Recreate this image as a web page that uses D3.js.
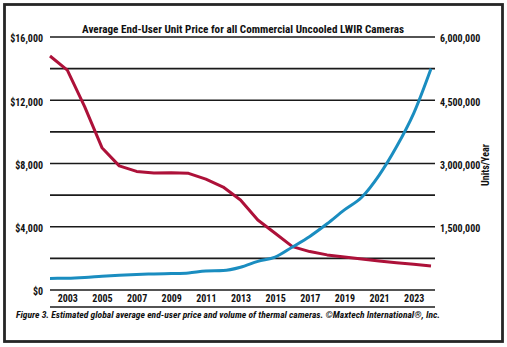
<!DOCTYPE html>
<html>
<head>
<meta charset="utf-8">
<script src="https://cdn.jsdelivr.net/npm/d3@7"></script>
<style>
  html, body { margin: 0; padding: 0; background: #fff; }
  svg text { font-family: "Liberation Sans Narrow", "Roboto Condensed", "DejaVu Sans Condensed", "Liberation Sans", sans-serif; fill: #111; }
</style>
</head>
<body>
<div id="chart"></div>
<script>
const years = d3.range(2002, 2025)
// average end-user unit price, US$
const price = [14800, 13900, 11600, 9000, 7850, 7500, 7400, 7420, 7380, 7010, 6510,
  5690, 4430, 3590, 2740, 2430, 2220, 2090, 1960, 1840, 1730, 1630, 1520]
// units shipped per year
const units = [275000, 278000, 295000, 325000, 350000, 368000, 380000, 390000, 405000,
  450000, 460000, 540000, 680000, 780000, 1020000, 1270000, 1570000, 1900000, 2200000,
  2720000, 3390000, 4190000, 5250000]
const xTicks = [2003, 2005, 2007, 2009, 2011, 2013, 2015, 2017, 2019, 2021, 2023]
const priceTicks = [0, 4000, 8000, 12000, 16000]
const unitTicks = [1500000, 3000000, 4500000, 6000000]
const gridTicks = d3.range(0, 16001, 2000)

const width = 507,
  height = 347

const svg = d3
  .select('#chart')
  .append('svg')
  .attr('width', width)
  .attr('height', height)

// frame
svg.append('rect')
  .attr('x', 4.5).attr('y', 4.5)
  .attr('width', 498).attr('height', 337)
  .attr('fill', '#fff')
  .attr('stroke', '#262626')
  .attr('stroke-width', 2.8)

const x = d3.scaleLinear().domain([2002, 2024]).range([50, 431])
const yL = d3.scaleLinear().domain([0, 16000]).range([290, 37])
const yR = d3.scaleLinear().domain([0, 6000000]).range([290, 37])

// horizontal rules
svg.append('g')
  .selectAll('line')
  .data(gridTicks)
  .enter()
  .append('line')
  .attr('x1', 50).attr('x2', 435)
  .attr('y1', d => yL(d)).attr('y2', d => yL(d))
  .attr('stroke', '#1a1a1a')
  .attr('stroke-width', 1.6)

// rule under the year labels
svg.append('line')
  .attr('x1', 50).attr('x2', 435)
  .attr('y1', 307).attr('y2', 307)
  .attr('stroke', '#1a1a1a')
  .attr('stroke-width', 1.6)

svg.append('text')
  .attr('x', 243).attr('y', 33)
  .attr('text-anchor', 'middle')
  .attr('font-size', 10.5)
  .attr('font-weight', 'bold')
  .attr('textLength', 322)
  .attr('lengthAdjust', 'spacingAndGlyphs')
  .text('Average End-User Unit Price for all Commercial Uncooled LWIR Cameras')

const left = svg.append('g')
  .attr('transform', 'translate(46,0)')
  .call(d3.axisLeft(yL).tickValues(priceTicks).tickSize(0)
    .tickFormat(d => '$' + d3.format(',')(d)))
left.select('.domain').remove()
left.selectAll('text')
  .attr('font-size', 10).attr('font-weight', 'bold')
  .attr('font-family', null).attr('fill', '#111')
  .attr('dy', '0.78em').attr('y', -3)

const right = svg.append('g')
  .attr('transform', 'translate(440,0)')
  .call(d3.axisRight(yR).tickValues(unitTicks).tickSize(0)
    .tickFormat(d3.format(',')))
right.select('.domain').remove()
right.selectAll('text')
  .attr('font-size', 10).attr('font-weight', 'bold')
  .attr('font-family', null).attr('fill', '#111')
  .attr('x', 0).attr('dy', '0.78em').attr('y', -3)

const bottom = svg.append('g')
  .attr('transform', 'translate(0,293)')
  .call(d3.axisBottom(x).tickValues(xTicks).tickSize(0).tickFormat(d3.format('d')))
bottom.select('.domain').remove()
bottom.selectAll('text')
  .attr('font-size', 10).attr('font-weight', 'bold')
  .attr('font-family', null).attr('fill', '#111')
  .attr('y', 0).attr('dy', '0.85em')

svg.append('text')
  .attr('transform', 'translate(489,165) rotate(-90)')
  .attr('text-anchor', 'middle')
  .attr('font-size', 10)
  .attr('font-weight', 'bold')
  .text('Units/Year')

// price line (left axis)
const priceLine = d3.line()
  .x((d, i) => x(years[i]))
  .y(d => yL(d))

svg.append('path')
  .datum(price)
  .attr('d', priceLine)
  .attr('fill', 'none')
  .attr('stroke', '#ad1139')
  .attr('stroke-width', 3)
  .attr('stroke-linejoin', 'round')

// volume line (right axis)
const unitLine = d3.line()
  .x((d, i) => x(years[i]))
  .y(d => yR(d))
  .curve(d3.curveMonotoneX)

svg.append('path')
  .datum(units)
  .attr('d', unitLine)
  .attr('fill', 'none')
  .attr('stroke', '#1a8dc0')
  .attr('stroke-width', 3)

svg.append('text')
  .attr('x', 16).attr('y', 318)
  .attr('font-size', 8.5)
  .attr('font-weight', 'bold')
  .attr('font-style', 'italic')
  .attr('textLength', 424)
  .attr('lengthAdjust', 'spacingAndGlyphs')
  .text('Figure 3. Estimated global average end-user price and volume of thermal cameras. ©Maxtech International®, Inc.')
</script>
</body>
</html>
